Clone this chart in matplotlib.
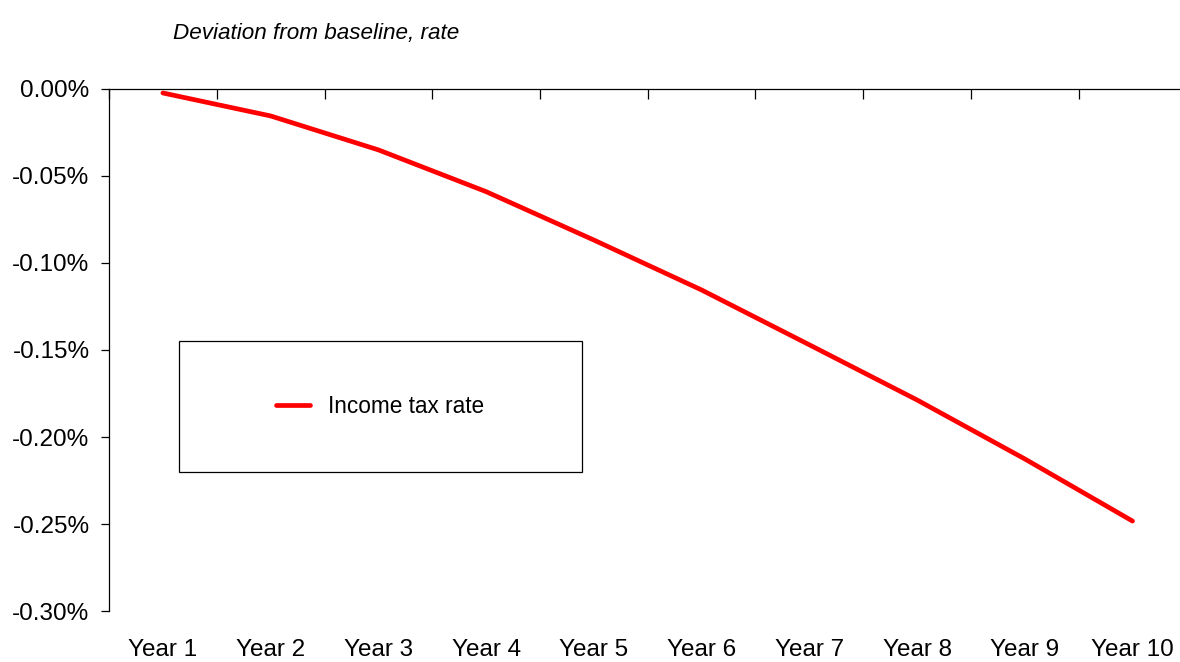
import numpy as np
import matplotlib.pyplot as plt
from matplotlib.patches import Rectangle
from matplotlib.ticker import FuncFormatter

plt.rcParams['font.family'] = ['Liberation Sans', 'DejaVu Sans']

years = ['Year 1', 'Year 2', 'Year 3', 'Year 4', 'Year 5',
         'Year 6', 'Year 7', 'Year 8', 'Year 9', 'Year 10']
income_tax_rate = [-0.0023, -0.0155, -0.035, -0.059, -0.0868,
                   -0.1155, -0.147, -0.1787, -0.2126, -0.2483]
y_ticks = [0.0, -0.05, -0.10, -0.15, -0.20, -0.25, -0.30]

fig = plt.figure(figsize=(11.8, 6.62), dpi=100)
ax = fig.add_axes([0.0924, 0.077, 0.913, 0.7886])

x = np.arange(1, len(years) + 1)
ax.plot(x, income_tax_rate, color='#ff0000', lw=3.4, solid_capstyle='round',
        label='Income tax rate')

ax.set_xlim(0.5, len(years) + 0.5)
ax.set_ylim(-0.30, 0.0)

# spines: left axis and the zero line on top
for s in ['right', 'bottom']:
    ax.spines[s].set_visible(False)
ax.spines['left'].set_linewidth(0.9)
ax.spines['top'].set_linewidth(0.9)

ax.set_yticks(y_ticks)
ax.yaxis.set_major_formatter(FuncFormatter(lambda v, p: f'{v:.2f}%'))
ax.tick_params(axis='y', direction='out', length=6, width=0.9, labelsize=17.5, pad=8)

# boundary ticks on the zero line, labels at the bottom
ax.set_xticks(np.arange(0.5, len(years) + 1, 1.0))
ax.set_xticks(x, minor=True)
ax.set_xticklabels(years, minor=True)
ax.tick_params(axis='x', which='major', top=True, bottom=False, direction='in',
               length=7, width=0.9, labeltop=False, labelbottom=False)
ax.tick_params(axis='x', which='minor', top=False, bottom=True, length=0,
               labelsize=17.5, pad=20.5)

# legend box
ax.add_patch(Rectangle((0.065, 0.266), 0.374, 0.251, transform=ax.transAxes,
                       fill=False, edgecolor='black', lw=0.9, clip_on=False))
ax.legend(loc='center', bbox_to_anchor=(0.065 + 0.374 / 2, 0.266 + 0.251 / 2),
          frameon=False, fontsize=16.3, handlelength=1.5, handletextpad=0.8)

fig.text(0.1466, 0.95, 'Deviation from baseline, rate', fontsize=16.2,
         style='italic', va='center', ha='left')

fig.savefig('out.png', dpi=100)
